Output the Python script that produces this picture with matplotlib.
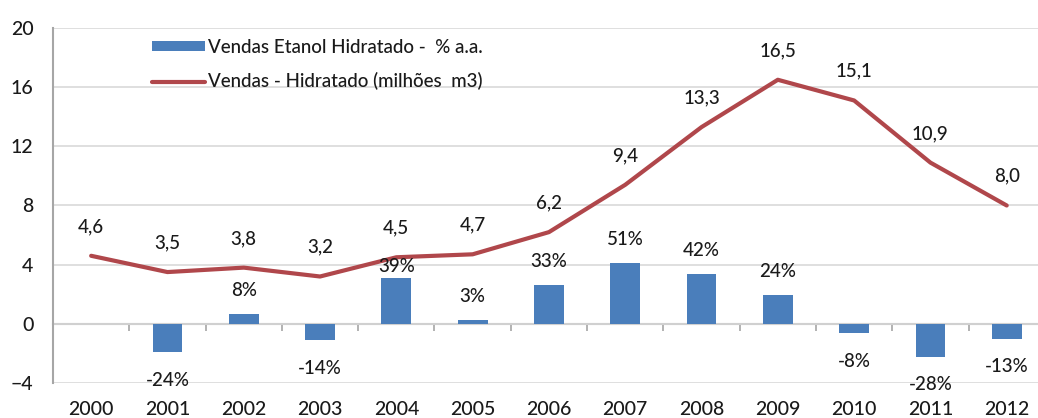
import matplotlib
matplotlib.use("Agg")
import matplotlib.pyplot as plt

plt.rcParams['font.family'] = ['Lato', 'DejaVu Sans']
plt.rcParams['font.weight'] = 'medium'

# data
years = ["2000", "2001", "2002", "2003", "2004", "2005", "2006",
         "2007", "2008", "2009", "2010", "2011", "2012"]
vendas_hidratado = [4.6, 3.5, 3.8, 3.2, 4.5, 4.7, 6.2, 9.4, 13.3, 16.5, 15.1, 10.9, 8.0]
crescimento_pct = [None, -24, 8, -14, 39, 3, 33, 51, 42, 24, -8, -28, -13]
bar_scale = 0.08  # % drawn on the same axis as the volume

bar_color = "#4a7ebb"
line_color = "#b0474b"
text_color = "#1a1a1a"
grid_color = "#d9d9d9"

fig = plt.figure(figsize=(10.38, 4.18), dpi=100)
ax = fig.add_axes([53 / 1038, 35 / 418, (1038 - 53) / 1038, (383 - 28) / 418])

x = list(range(len(years)))
bx = [i for i, p in zip(x, crescimento_pct) if p is not None]
bp = [p for p in crescimento_pct if p is not None]
bh = [p * bar_scale for p in bp]

bars = ax.bar(bx, bh, width=0.39, color=bar_color, zorder=2,
              label="Vendas Etanol Hidratado -  % a.a.")
line, = ax.plot(x, vendas_hidratado, color=line_color, lw=3.0, zorder=3,
                solid_capstyle="round", solid_joinstyle="round",
                label="Vendas - Hidratado (milhões  m3)")

# line labels
for i, v in zip(x, vendas_hidratado):
    ax.annotate(f"{v:.1f}".replace(".", ","), (i, v), xytext=(0, 21),
                textcoords="offset points", ha="center", va="center",
                fontsize=13.5, color=text_color, zorder=5)

# bar labels
for i, p, h in zip(bx, bp, bh):
    if p >= 0:
        dy = 8 if years[i] == "2004" else 17
    else:
        dy = -20
    ax.annotate(f"{p}%", (i, h), xytext=(0, dy), textcoords="offset points",
                ha="center", va="center", fontsize=13.5, color=text_color, zorder=5)

ax.set_xlim(-0.5, 12.41)
ax.set_ylim(-4, 20)
ax.set_yticks(range(-4, 21, 4))
ax.set_xticks(x, years)
ax.tick_params(axis="x", length=0, pad=13, labelsize=14, labelcolor=text_color)
ax.tick_params(axis="y", length=0, pad=14, labelsize=14, labelcolor=text_color)

ax.yaxis.grid(True, color=grid_color, lw=1.2, zorder=0)
ax.set_axisbelow(True)
for s in ("top", "right", "bottom"):
    ax.spines[s].set_visible(False)
ax.spines["left"].set_color("#a6a6a6")
ax.spines["left"].set_linewidth(1.5)

# category axis line at zero with ticks between categories
sec = ax.secondary_xaxis(4 / 24)
sec.set_xticks([i + 0.5 for i in x[:-1]])
sec.set_xticklabels([])
sec.tick_params(length=5, width=1.2, color="#a6a6a6", direction="out")
sec.spines["bottom"].set_color("#a6a6a6")
sec.spines["bottom"].set_linewidth(1.5)

ax.legend(handles=[bars, line], loc="upper left",
          bbox_to_anchor=((152 - 53) / 985, 0.97),
          frameon=False, fontsize=13.5, handlelength=2.8, handleheight=0.5,
          handletextpad=0.2, labelspacing=0.9, borderpad=0, borderaxespad=0,
          labelcolor=text_color)

fig.savefig("out.png", dpi=100, facecolor="white")
